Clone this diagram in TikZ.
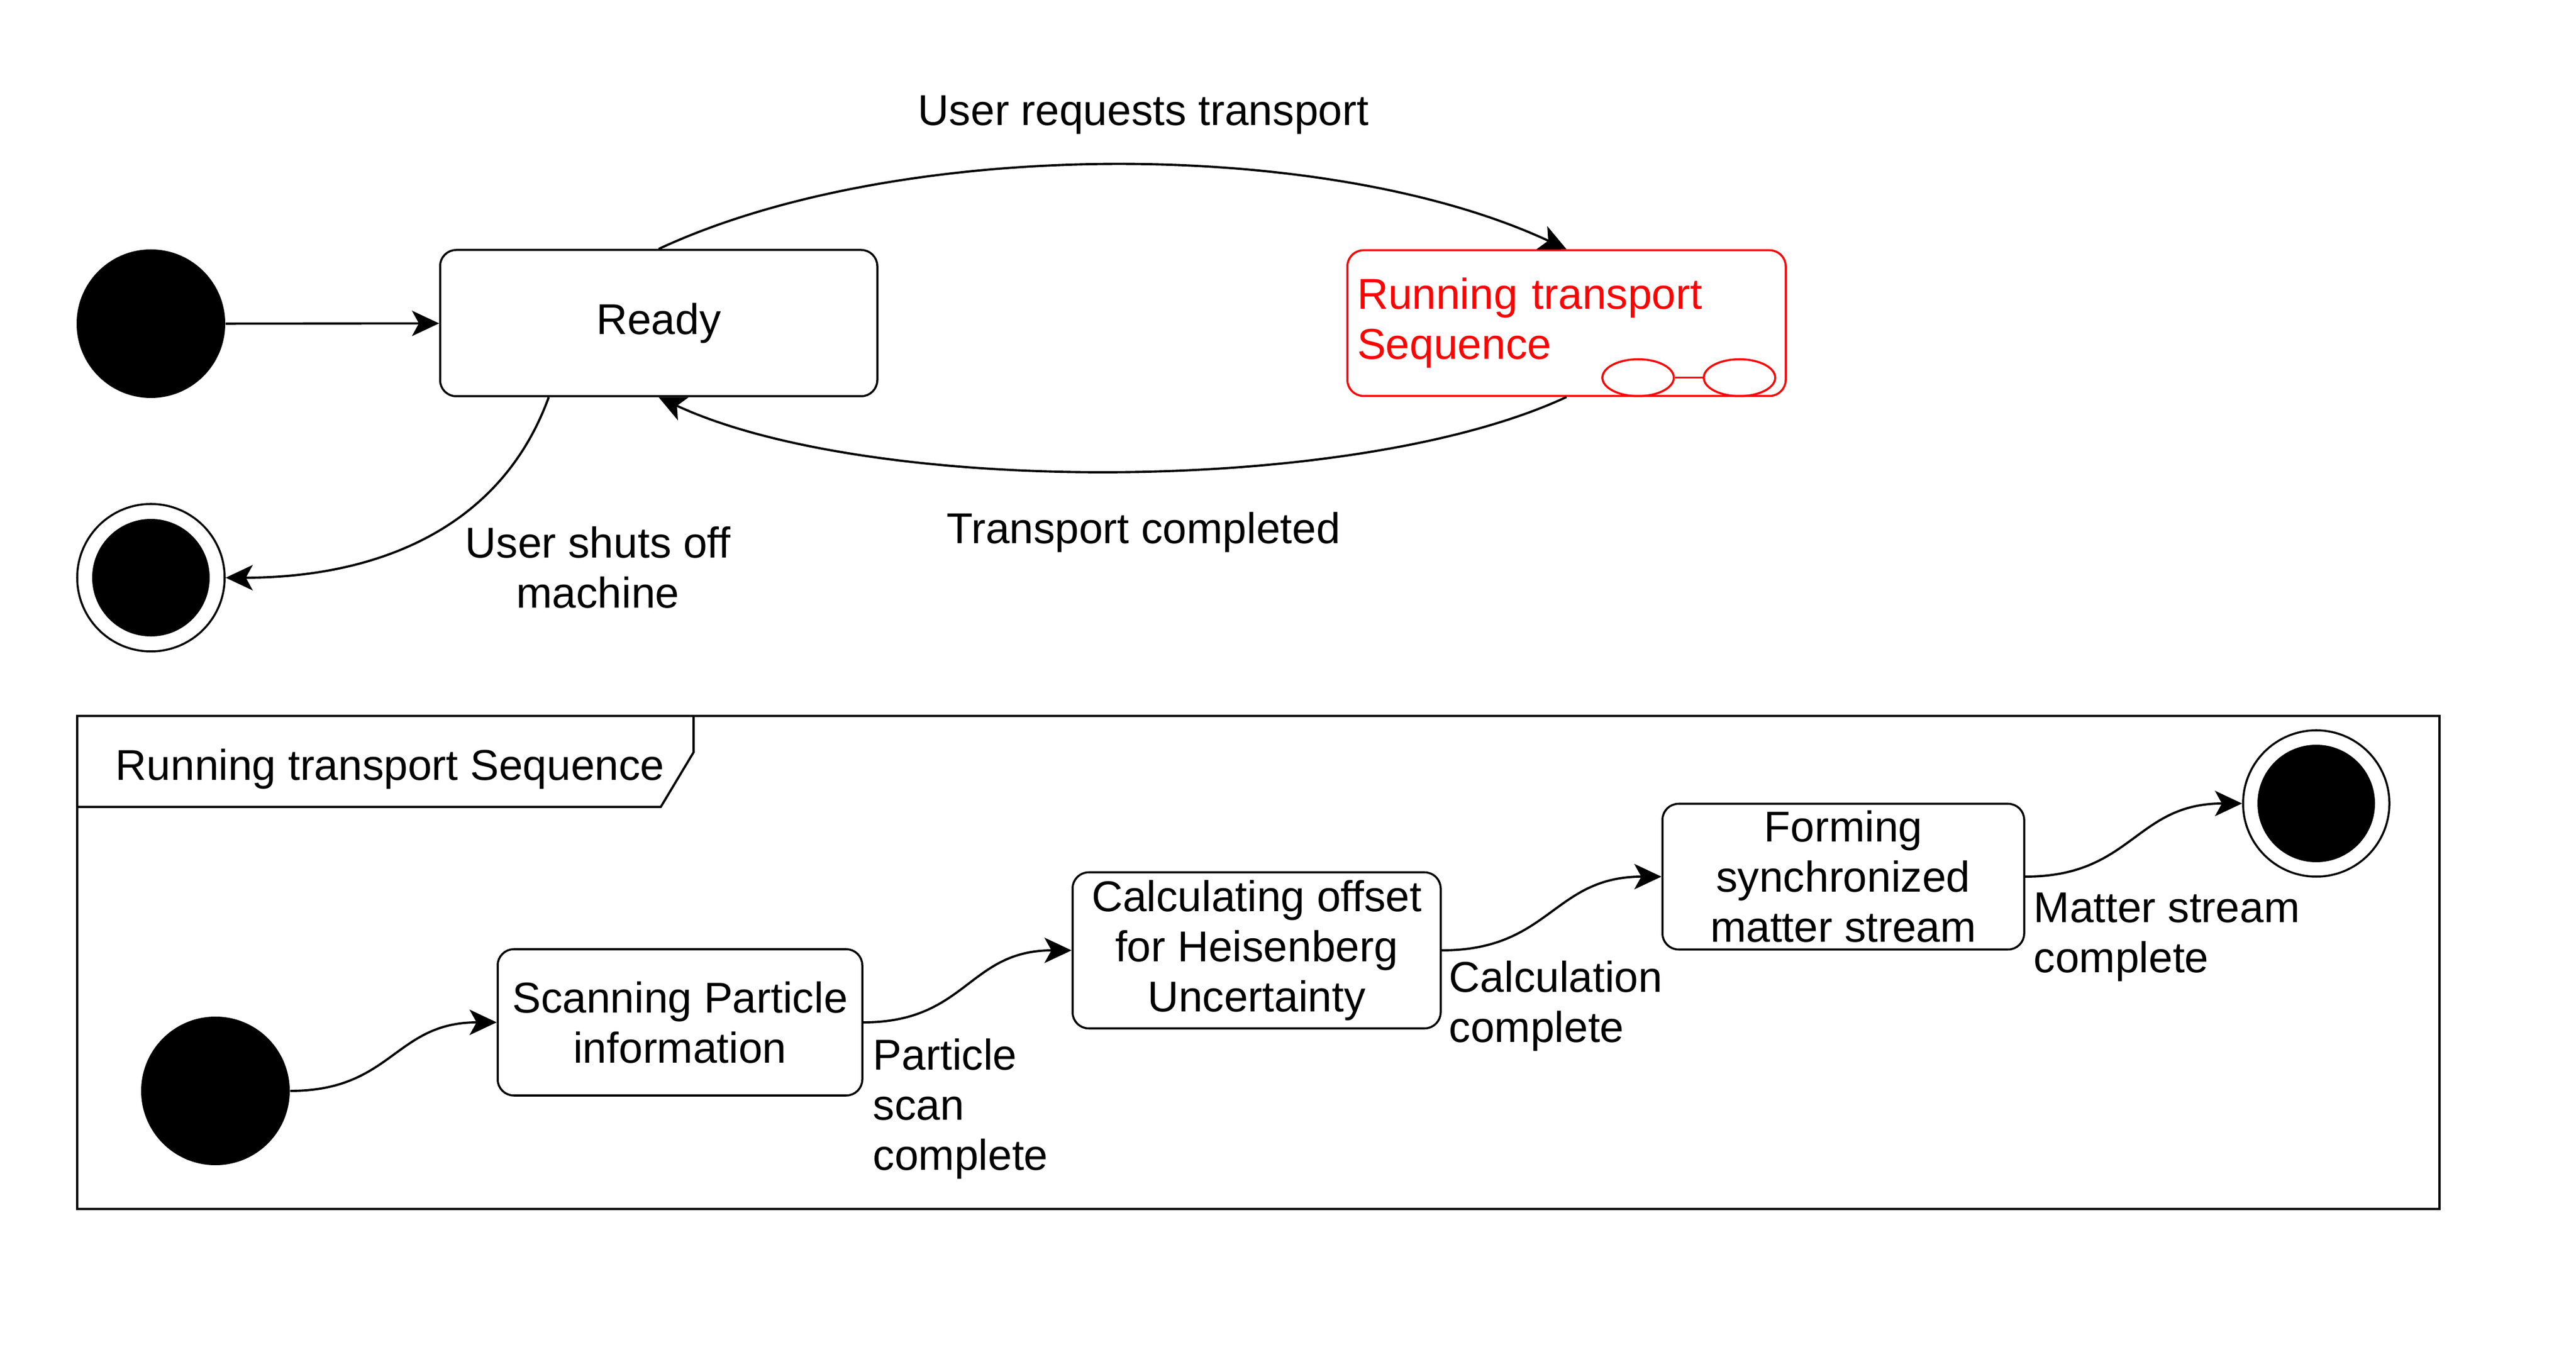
\documentclass[tikz,border=0pt]{standalone}
\usepackage{fontspec}
\setmainfont{Liberation Sans}
\usetikzlibrary{arrows.meta,shapes.geometric}

\tikzset{
    statebox/.style={rectangle, rounded corners=0.28cm, draw, line width=1pt, align=center, inner sep=0.1cm},
    initstate/.style={circle, fill=black, minimum size=2.58cm, inner sep=0},
    finalstate/.style={circle, draw, line width=1pt, minimum size=2.56cm, inner sep=0,
        path picture={\fill (path picture bounding box.center) circle[radius=1.02cm];}},
    trans/.style={-{Stealth[length=0.47cm,width=0.44cm,inset=0.12cm]}},
    translabel/.style={inner sep=0, align=left, anchor=west},
}

\begin{document}
\begin{tikzpicture}[font=\fontsize{21.3pt}{24.8pt}\selectfont]
        \useasboundingbox (0,0) rectangle (44.72,23.55);

        % top level machine
        \node (init) [initstate] at (2.62,17.93) {};
        \node (fin) [finalstate] at (2.62,13.52) {};
        \begin{scope}[every node/.style={statebox}]
            \node (ready) [minimum width=7.59cm, minimum height=2.54cm] at (11.435,17.94) {Ready};
            \node (run) [draw=red, text=red, align=left, text width=7.27cm, inner xsep=0.17cm,
                minimum width=7.61cm, minimum height=2.53cm] at (27.195,17.94) {Running transport\\Sequence};
        \end{scope}
        \node (runA) [ellipse, draw=red, line width=1pt, minimum width=1.24cm, minimum height=0.64cm, inner sep=0]
            at ([shift={(-2.58,0.335)}]run.south east) {};
        \node (runB) [ellipse, draw=red, line width=1pt, minimum width=1.24cm, minimum height=0.64cm, inner sep=0]
            at ([shift={(-0.82,0.335)}]run.south east) {};
        \draw [red, line width=1pt] (runA) -- (runB);

        \node (reqlbl) at (19.85,21.55) {User requests transport};
        \node (donelbl) at (19.85,14.31) {Transport completed};
        \node (offlbl) [align=center] at (10.38,13.70) {User shuts off\\machine};

        \begin{scope}[
            every edge/.style={draw=black, line width=1.1pt}]
            \path [trans] (init) edge (ready);
            \path [trans] (ready.north) edge[out=25, in=155, looseness=0.75] (run.north);
            \path [trans] (run.south) edge[out=205, in=-25, looseness=0.66] (ready.south);
            \path [trans] (ready.214) edge[out=-110, in=0] (fin);
        \end{scope}

        % composite state frame
        \node (frame) [rectangle, draw, line width=1.1pt, minimum width=41.01cm, minimum height=8.56cm, inner sep=0]
            at (21.845,6.84) {};
        \draw [line width=1.1pt] (frame.north west) ++(10.72,0) -- ++(0,-0.65) -- ++(-0.57,-0.95) -- ++(-10.15,0);
        \node (seqtitle) [anchor=west, inner sep=0] at (2.00,10.20) {Running transport Sequence};

        \node (sinit) [initstate] at (3.74,4.61) {};
        \node (sfin) [finalstate, minimum size=2.54cm] at (40.21,9.60) {};
        \begin{scope}[every node/.style={statebox}]
            \node (scan) [minimum width=6.33cm, minimum height=2.54cm] at (11.805,5.80) {Scanning Particle\\information};
            \node (calc) [minimum width=6.39cm, minimum height=2.71cm] at (21.815,7.05) {Calculating offset\\for Heisenberg\\Uncertainty};
            \node (form) [minimum width=6.28cm, minimum height=2.53cm] at (32.00,8.33) {Forming\\synchronized\\matter stream};
        \end{scope}

        \node (scanlbl) [translabel] at (15.15,4.30) {Particle\\scan\\complete};
        \node (calclbl) [translabel] at (25.15,6.08) {Calculation\\complete};
        \node (matterlbl) [translabel] at (35.30,7.28) {Matter stream\\complete};

        \begin{scope}[
            every edge/.style={draw=black, line width=1.1pt}]
            \path [trans] (sinit) edge[out=0, in=180, looseness=1.2] (scan);
            \path [trans] (scan) edge[out=0, in=180, looseness=1.2] (calc);
            \path [trans] (calc) edge[out=0, in=180, looseness=1.2] (form);
            \path [trans] (form) edge[out=0, in=180, looseness=1.2] (sfin);
        \end{scope}
\end{tikzpicture}
\end{document}
